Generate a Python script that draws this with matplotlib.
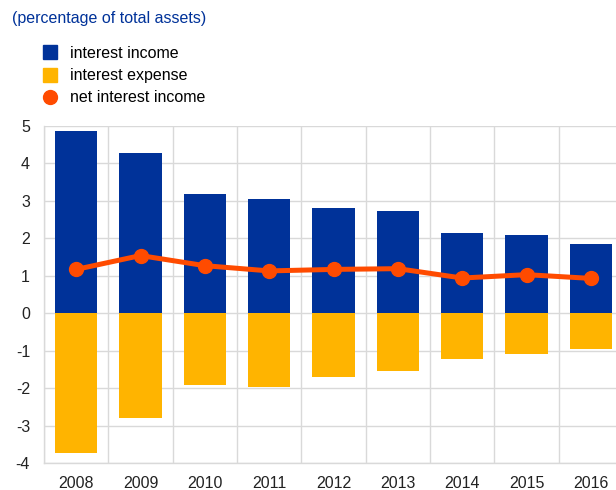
import numpy as np
import matplotlib.pyplot as plt
from matplotlib.lines import Line2D

plt.rcParams['font.family'] = ['Liberation Sans', 'DejaVu Sans']
plt.rcParams['axes.unicode_minus'] = False

years = ['2008', '2009', '2010', '2011', '2012', '2013', '2014', '2015', '2016']
income = [4.87, 4.29, 3.18, 3.06, 2.82, 2.72, 2.14, 2.09, 1.86]
expense = [-3.73, -2.79, -1.93, -1.98, -1.70, -1.55, -1.23, -1.09, -0.96]
net = [1.17, 1.54, 1.27, 1.13, 1.17, 1.19, 0.94, 1.03, 0.93]

blue = '#003299'
yellow = '#FFB400'
orange = '#FF4B00'
grid = '#d9d9d9'

fig = plt.figure(figsize=(6.16, 4.9), dpi=100)
ax = fig.add_axes([44 / 616, 27 / 490, 579 / 616, 337 / 490])

x = np.arange(len(years))
ax.bar(x, income, 0.66, color=blue, zorder=2)
ax.bar(x, expense, 0.66, color=yellow, zorder=2)
ax.plot(x, net, color=orange, lw=3.6, marker='o', ms=10, zorder=3)

ax.set_xlim(-0.5, len(years) - 0.5)
ax.set_ylim(-4, 5)
ax.set_yticks(range(-4, 6))
ax.set_xticks(x)
ax.set_xticklabels(years)
ax.set_xticks(np.arange(-0.5, len(years), 1), minor=True)
ax.tick_params(which='both', length=0, labelsize=11.5, colors='#222222')
ax.tick_params(axis='y', pad=10)
ax.tick_params(axis='x', pad=9)
ax.grid(axis='y', which='major', color=grid, lw=1, zorder=0)
ax.grid(axis='x', which='minor', color=grid, lw=1, zorder=0)
for s in ['top', 'right']:
    ax.spines[s].set_visible(False)
for s in ['left', 'bottom']:
    ax.spines[s].set_color(grid)
    ax.spines[s].set_linewidth(1)

fig.text(12 / 616, 1 - 19 / 490, '(percentage of total assets)', color=blue,
         fontsize=11.5, va='center', ha='left')

handles = [
    Line2D([], [], ls='none', marker='s', ms=10, color=blue),
    Line2D([], [], ls='none', marker='s', ms=10, color=yellow),
    Line2D([], [], ls='none', marker='o', ms=10, color=orange),
]
labels = ['interest income', 'interest expense', 'net interest income']
fig.legend(handles, labels, loc='upper left', bbox_to_anchor=(42 / 616, 1 - 46 / 490),
           frameon=False, fontsize=11.5, handlelength=1.0, handletextpad=0.75,
           labelspacing=0.45, borderaxespad=0, borderpad=0)

fig.savefig('out.png', dpi=100)
